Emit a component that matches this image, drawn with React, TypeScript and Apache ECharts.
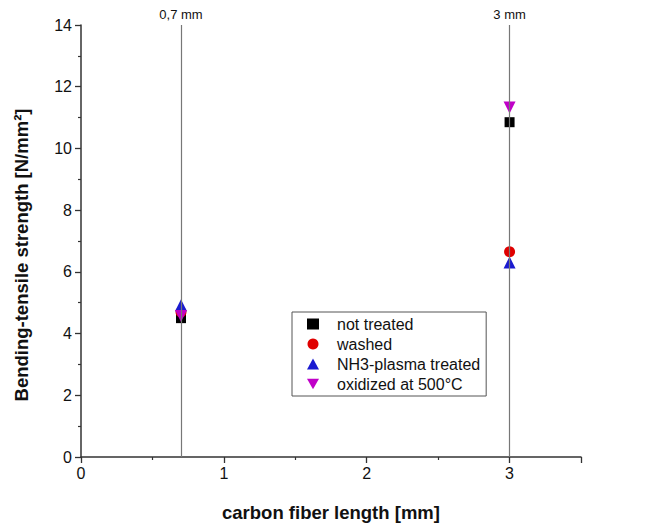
import React, { useEffect, useRef } from "react";
import * as echarts from "echarts";

const seriesNames = ["not treated", "washed", "NH3-plasma treated", "oxidized at 500°C"];
const fiberLengths = [0.7, 3];
const notTreated = [4.5, 10.85];
const washed = [4.7, 6.65];
const nh3Plasma = [4.92, 6.3];
const oxidized = [4.57, 11.33];
const markerLines = [0.7, 3];
const markerLabels = ["0,7 mm", "3 mm"];

const colors = ["#000000", "#e00000", "#1a1ad0", "#c000c8"];
const symbols = ["rect", "circle", "triangle", "triangle"];
const rotations = [0, 0, 0, 180];
const sizes = [10, 11, 12, 12];
const legendIcons = ["rect", "circle", "triangle", "path://M0,0L2,0L1,1.73Z"];

const FONT = "'Liberation Sans', Arial, sans-serif";

export default function App() {
  const ref = useRef<HTMLDivElement>(null);
  useEffect(() => {
    const chart = echarts.init(ref.current!, null, { renderer: "svg" });
    const values = [notTreated, washed, nh3Plasma, oxidized];
    const series: any[] = values.map((vals, i) => ({
      name: seriesNames[i],
      type: "scatter",
      symbol: symbols[i],
      symbolRotate: rotations[i],
      symbolSize: sizes[i],
      itemStyle: { color: colors[i], opacity: 1 },
      data: fiberLengths.map((x, j) => [x, vals[j]]),
      z: 3,
    }));
    series.unshift({
      name: "_lines",
      type: "scatter",
      data: [],
      silent: true,
      markLine: {
        silent: true,
        symbol: ["none", "none"],
        lineStyle: { color: "#777", width: 1.2, type: "solid" },
        label: {
          show: true,
          position: "end",
          distance: 4,
          color: "#111",
          fontSize: 13,
          fontFamily: FONT,
        },
        data: markerLines.map((x, i) => ({ xAxis: x, label: { formatter: markerLabels[i] } })),
      },
    });
    chart.setOption({
      animation: false,
      backgroundColor: "#ffffff",
      textStyle: { fontFamily: FONT },
      grid: { left: 81, right: 67, top: 25, bottom: 67 },
      graphic: [
        {
          type: "text",
          x: 21,
          y: 255,
          rotation: Math.PI / 2,
          style: {
            text: "Bending-tensile strength [N/mm²]",
            fontSize: 18.5,
            fontWeight: "bold",
            fontFamily: FONT,
            fill: "#111",
            align: "center",
            verticalAlign: "middle",
          },
        },
      ],
      legend: {
        data: seriesNames.map((n, i) => ({ name: n, icon: legendIcons[i] })),
        orient: "vertical",
        left: 292,
        top: 312,
        borderColor: "#555",
        borderWidth: 1,
        padding: [4, 6, 4, 15],
        itemWidth: 12,
        itemHeight: 11,
        itemGap: 4,
        symbolRotate: 0,
        textStyle: { fontSize: 16, color: "#111", fontFamily: FONT, padding: [0, 0, 0, 13] },
      },
      xAxis: {
        type: "value",
        min: 0,
        max: 3.5,
        interval: 1,
        name: "carbon fiber length [mm]",
        nameLocation: "middle",
        nameGap: 46,
        nameTextStyle: { fontSize: 18.5, fontWeight: "bold", color: "#111", fontFamily: FONT },
        axisLine: { lineStyle: { color: "#333", width: 1.5 } },
        axisTick: { show: true, length: 6, lineStyle: { color: "#333", width: 1.3 } },
        minorTick: { show: true, splitNumber: 2, length: 3, lineStyle: { color: "#333", width: 1.2 } },
        axisLabel: { fontSize: 16, color: "#111", margin: 8, showMaxLabel: false },
        splitLine: { show: false },
      },
      yAxis: {
        type: "value",
        min: 0,
        max: 14,
        interval: 2,
        axisLine: { show: true, lineStyle: { color: "#333", width: 1.5 } },
        axisTick: { show: true, length: 6, lineStyle: { color: "#333", width: 1.3 } },
        minorTick: { show: true, splitNumber: 2, length: 3, lineStyle: { color: "#333", width: 1.2 } },
        axisLabel: { fontSize: 16, color: "#111", margin: 9 },
        splitLine: { show: false },
      },
      series,
    });
    return () => chart.dispose();
  }, []);
  return <div ref={ref} style={{ width: 648, height: 527, position: "absolute", left: 0, top: 0 }} />;
}
